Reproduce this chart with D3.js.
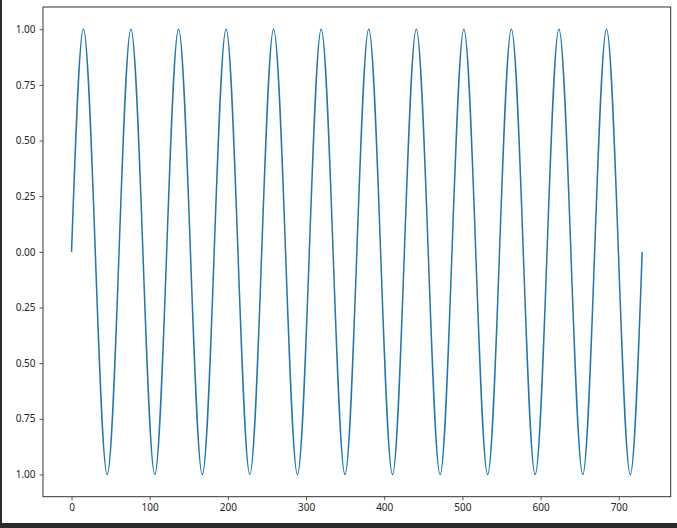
<!DOCTYPE html>
<html>
<head>
<meta charset="utf-8">
<script src="https://cdn.jsdelivr.net/npm/d3@7"></script>
<style>
  body { margin: 0; background: #fff; }
  #chart { position: relative; width: 677px; height: 528px; }
  .tick text { font-family: "Noto Sans", "DejaVu Sans", sans-serif; font-size: 10px; fill: #262626; }
</style>
</head>
<body>
<div id="chart"></div>
<script>
// points: zero crossings, peaks and troughs (quarter periods)
var xs = [0, 15.2, 30.4, 45.6, 60.8, 76.0, 91.3, 106.5, 121.7, 136.9, 152.1, 167.3,
          182.5, 197.7, 212.9, 228.1, 243.3, 258.5, 273.8, 289.0, 304.2, 319.4, 334.6, 349.8,
          365.0, 380.2, 395.4, 410.6, 425.8, 441.0, 456.3, 471.5, 486.7, 501.9, 517.1, 532.3,
          547.5, 562.7, 577.9, 593.1, 608.3, 623.5, 638.8, 654.0, 669.2, 684.4, 699.6, 714.8, 730]
var ys = [0, 1, 0, -1, 0, 1, 0, -1, 0, 1, 0, -1,
          0, 1, 0, -1, 0, 1, 0, -1, 0, 1, 0, -1,
          0, 1, 0, -1, 0, 1, 0, -1, 0, 1, 0, -1,
          0, 1, 0, -1, 0, 1, 0, -1, 0, 1, 0, -1, 0]
var xTicks = [0, 100, 200, 300, 400, 500, 600, 700]
var yTicks = [1, 0.75, 0.5, 0.25, 0, -0.25, -0.5, -0.75, -1]

var data = xs.map(function (x, i) { return { x: x, y: ys[i] } })

var W = 677, H = 528
var margin = { top: 7, right: 6, bottom: 31, left: 43 },
    width = 670.7 - margin.left,
    height = 496.7 - margin.top

var svg = d3.select("#chart")
    .append("svg")
    .attr("width", W)
    .attr("height", H)

// dark frame strips around the output cell
svg.append("rect").attr("x", 0).attr("y", 0).attr("width", 2).attr("height", H).attr("fill", "#2b2b2b")
svg.append("rect").attr("x", 0).attr("y", 523).attr("width", W).attr("height", 5).attr("fill", "#2b2b2b")

var g = svg.append("g")
    .attr("transform", "translate(" + margin.left + "," + margin.top + ")")

// 5% padding like matplotlib
var xmin = d3.min(xs), xmax = d3.max(xs), xpad = (xmax - xmin) * 0.05
var x = d3.scaleLinear()
    .domain([xmin - xpad, xmax + xpad])
    .range([0, width])

var y = d3.scaleLinear()
    .domain([-1.1, 1.1])
    .range([height, 0])

// X axis
g.append("g")
    .attr("transform", "translate(0," + height + ")")
    .call(d3.axisBottom(x).tickValues(xTicks).tickSize(3.5).tickPadding(4).tickSizeOuter(0))
    .call(function (a) { a.select(".domain").remove() })

// Y axis (labels drawn without minus glyph, as in the picture)
g.append("g")
    .call(d3.axisLeft(y).tickValues(yTicks).tickSize(3.5).tickPadding(4).tickSizeOuter(0)
        .tickFormat(function (d) { return d3.format(".2f")(Math.abs(d)) }))
    .call(function (a) { a.select(".domain").remove() })

g.selectAll(".tick line").attr("stroke", "#333").attr("stroke-width", 0.8)

// the line
var line = d3.line()
    .x(function (d) { return x(d.x) })
    .y(function (d) { return y(d.y) })
    .curve(d3.curveNatural)

g.append("path")
    .datum(data)
    .attr("fill", "none")
    .attr("stroke", "#1f77b4")
    .attr("stroke-width", 1.5)
    .attr("d", line)

// frame
g.append("rect")
    .attr("x", 0).attr("y", 0)
    .attr("width", width).attr("height", height)
    .attr("fill", "none")
    .attr("stroke", "#333")
    .attr("stroke-width", 1)
</script>
</body>
</html>
